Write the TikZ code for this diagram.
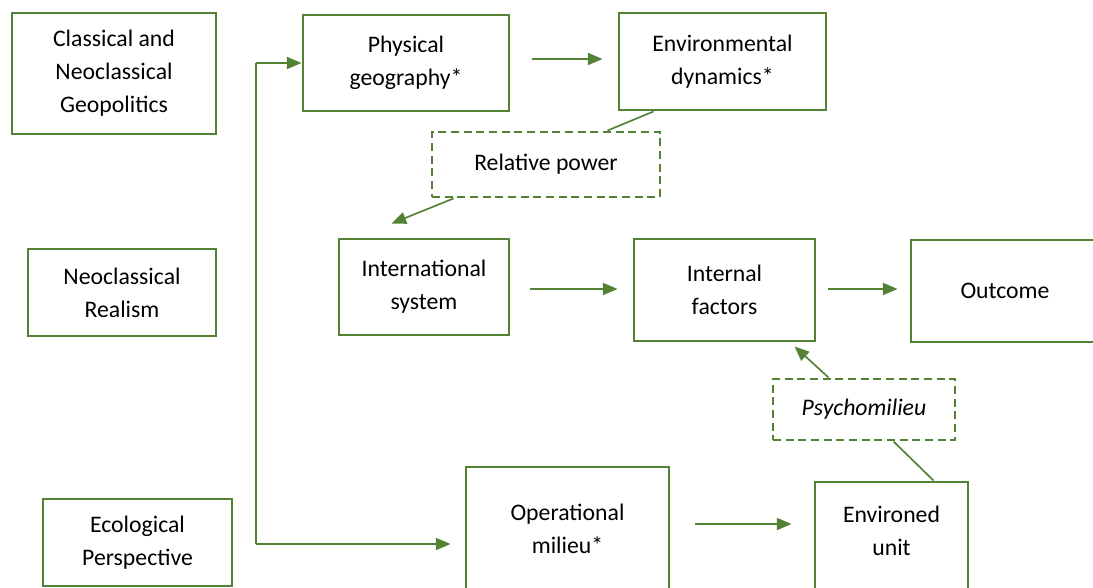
\documentclass[tikz,border=0pt]{standalone}
\usepackage{fontspec}
\setmainfont{Carlito}
\usetikzlibrary{arrows.meta,calc}
\definecolor{leaf}{HTML}{548235}
\begin{document}
\begin{tikzpicture}[x=0.75pt,y=-0.75pt,
  txt/.style={font=\fontsize{17.8}{24.75}\selectfont, align=center, text=black, inner sep=0pt},
  box/.style={txt, draw=leaf, line width=2.2pt},
  dbox/.style={txt, draw=leaf, line width=2.2pt, dash pattern=on 6pt off 3.5pt},
  link/.style={draw=leaf, line width=1.25pt},
  arr/.style={link, -{Triangle[length=11pt,width=9pt]}}]
\useasboundingbox (0,0) rectangle (1093,588);
\clip (0,0) rectangle (1093,588);

% theory column
\node[box, minimum width=153pt, minimum height=90.75pt] (cng) at (114,73.5) {Classical and\\Neoclassical\\Geopolitics};
\node[box, minimum width=141pt, minimum height=65.25pt] (ncr) at (122,292.5) {Neoclassical\\Realism};
\node[box, minimum width=141.75pt, minimum height=65.25pt] (eco) at (137.5,542.5) {Ecological\\Perspective};

% model boxes
\node[box, minimum width=154.5pt, minimum height=72pt] (phys) at (406,63) {Physical\\geography*};
\node[box, minimum width=155.25pt, minimum height=72.75pt] (envd) at (722.5,61.5) {Environmental\\dynamics*};
\node[dbox, minimum width=171pt, minimum height=48.75pt] (relp) at (546,164.5) {Relative power};
\node[box, minimum width=127.5pt, minimum height=72pt] (intl) at (424,287) {International\\system};
\node[box, minimum width=135.75pt, minimum height=76.5pt] (intf) at (724.5,290) {Internal\\factors};
\node[box, minimum width=141pt, minimum height=76.5pt] (outc) at (1005,291) {Outcome};
\node[dbox, minimum width=136.5pt, minimum height=45.75pt] (psy) at (864,409.5) {\itshape Psychomilieu};
\node[box, minimum width=152.25pt, minimum height=93pt] (opm) at (567.5,529) {Operational\\milieu*};
\node[box, minimum width=114.75pt, minimum height=82.5pt, text depth=10pt] (envu) at (891.5,537) {Environed\\unit};

% bracket feeding the two ecological branches
\coordinate (brtop) at (256,63);
\coordinate (brbot) at (256,544);
\draw[link] (brtop) -- (brbot);
\draw[arr] (brtop) -- (brtop -| phys.west);
\draw[arr, shorten >=10.5pt] (brbot) -- (brbot -| opm.west);

% horizontal flows
\coordinate (h1) at ($(phys.east)+(0,-4)$);
\coordinate (h2) at ($(intl.east)+(0,2)$);
\coordinate (h3) at ($(intf.east)+(0,-1)$);
\coordinate (h4) at ($(opm.east)+(0,-5)$);
\draw[arr, shorten <=16.5pt, shorten >=11.25pt] (h1) -- (h1 -| envd.west);
\draw[arr, shorten <=15pt, shorten >=11.25pt] (h2) -- (h2 -| intf.west);
\draw[arr, shorten <=9pt, shorten >=9pt] (h3) -- (h3 -| outc.west);
\draw[arr, shorten <=18.75pt, shorten >=16.5pt] (h4) -- (h4 -| envu.west);

% relative power link
\draw[link] ($(envd.south west)+(36,0)$) -- ($(relp.north west)+(177,0)$);
\draw[arr] ($(relp.south west)+(23,0)$) -- ($(intl.north west)+(54,-14)$);

% psychomilieu link
\draw[link] ($(envu.north west)+(120,0)$) -- ($(psy.south west)+(122,0)$);
\draw[arr] ($(psy.north west)+(57,0)$) -- ($(intf.south west)+(162,4)$);
\end{tikzpicture}
\end{document}
